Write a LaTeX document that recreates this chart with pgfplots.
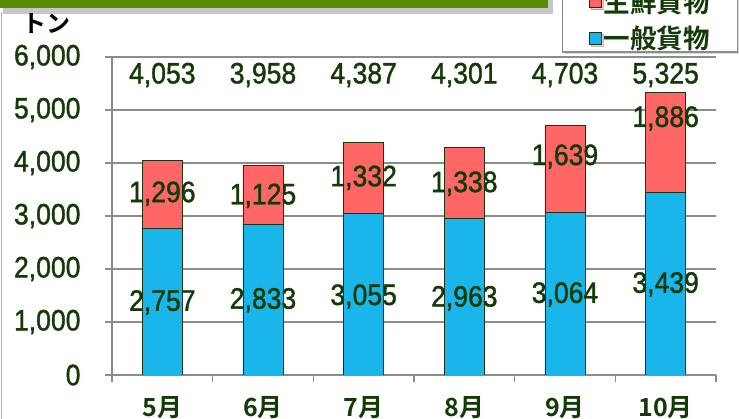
\documentclass[border=0pt]{standalone}
\usepackage{fontspec}
\setmainfont{Liberation Sans}[FakeStretch=0.9, FakeBold=1.3]
\newfontfamily\jp{Noto Sans CJK JP}[BoldFont={Noto Sans CJK JP Bold}]
\usepackage{pgfplots}
\usepackage{pgfplotstable}
\pgfplotsset{compat=1.18}
\usetikzlibrary{shadows}
\definecolor{txt}{RGB}{20,58,8}
\definecolor{blu}{RGB}{24,182,234}
\definecolor{redd}{RGB}{255,102,102}
\definecolor{gridc}{RGB}{140,140,140}
\definecolor{ban}{RGB}{88,140,0}
\definecolor{edge}{RGB}{30,50,20}

\pgfplotstableread{
x blue red
0 2757 1296
1 2833 1125
2 3055 1332
3 2963 1338
4 3064 1639
5 3439 1886
}\data

\pgfplotstableread{
x y lab
0 5660 4,053
1 5660 3,958
2 5660 4,387
3 5660 4,301
4 5660 4,703
5 5660 5,325
}\tot

\pgfplotstableread{
x y lab
0 3420 1,296
1 3380 1,125
2 3720 1,332
3 3610 1,338
4 4120 1,639
5 4840 1,886
}\redlab

\pgfplotstableread{
x y lab
0 1370 2,757
1 1410 2,833
2 1480 3,055
3 1450 2,963
4 1520 3,064
5 1710 3,439
}\blulab

\begin{document}
\begin{tikzpicture}[x=1pt,y=1pt]
\useasboundingbox (0,0) rectangle (739,419);
% frame line at left
\draw[gridc!70, line width=1pt] (1.5,0) -- (1.5,407);
% banner
\fill[black, opacity=0.22] (3,405) rectangle (553,422);
\fill[ban] (0,411) rectangle (548,425);
% unit label
\node[text=black, font=\jp\bfseries\fontsize{24}{26}\selectfont] at (47,395) {トン};

\begin{axis}[
  at={(112pt,44pt)}, anchor=south west,
  scale only axis, width=604pt, height=318pt,
  ybar stacked, bar width=40pt,
  xmin=-0.5, xmax=5.5, ymin=0, ymax=6000,
  axis x line*=bottom, axis y line*=left,
  axis line style={gridc, line width=1.5pt, -},
  ytick={0,1000,...,6000},
  ymajorgrids, grid style={gridc, line width=1.3pt},
  xtick={-0.5,0.5,...,5.5}, xticklabels={},
  extra x ticks={0,1,2,3,4,5},
  extra x tick labels={5月,6月,7月,8月,9月,10月},
  extra x tick style={major tick length=0pt},
  tick align=outside, major tick length=7pt,
  tick style={gridc, line width=1.3pt},
  yticklabel style={font=\fontsize{29.5}{32}\selectfont, text=txt, xshift=-21pt},
  xticklabel style={font=\jp\bfseries\fontsize{25}{27}\selectfont, text=txt, yshift=-18pt},
  /pgf/number format/1000 sep={,},
  /pgf/number format/assume math mode=true,
  reverse legend,
  legend style={at={(0.745,1.0126)}, anchor=south west, draw=gridc,
    line width=1.5pt, fill=white, text=txt,
    font=\jp\bfseries\fontsize{26.5}{28}\selectfont,
    cells={anchor=west}, inner xsep=26pt, inner ysep=0pt, row sep=8pt,
    drop shadow={shadow xshift=2pt, shadow yshift=-2pt, opacity=0.3}},
]
\addplot[fill=blu, draw=edge, line width=0.8pt,
  legend image code/.code={\draw[fill=blu, draw=edge, line width=0.8pt] (0pt,-6pt) rectangle (12pt,6pt);}]
  table[x=x, y=blue]{\data};
\addlegendentry{一般貨物}
\addplot[fill=redd, draw=edge, line width=0.8pt,
  legend image code/.code={\draw[fill=redd, draw=edge, line width=0.8pt] (0pt,-6pt) rectangle (12pt,6pt);}]
  table[x=x, y=red]{\data};
\addlegendentry{生鮮貨物}
\end{axis}

\begin{axis}[
  at={(112pt,44pt)}, anchor=south west,
  scale only axis, width=604pt, height=318pt,
  xmin=-0.5, xmax=5.5, ymin=0, ymax=6000,
  hide axis, clip=false,
  nodes near coords, point meta=explicit symbolic,
  every node near coord/.append style={anchor=center, text=txt,
    font=\fontsize{29.5}{32}\selectfont},
]
\addplot[draw=none, mark=none] table[x=x, y=y, meta=lab]{\tot};
\addplot[draw=none, mark=none] table[x=x, y=y, meta=lab]{\redlab};
\addplot[draw=none, mark=none] table[x=x, y=y, meta=lab]{\blulab};
\end{axis}
\end{tikzpicture}
\end{document}
